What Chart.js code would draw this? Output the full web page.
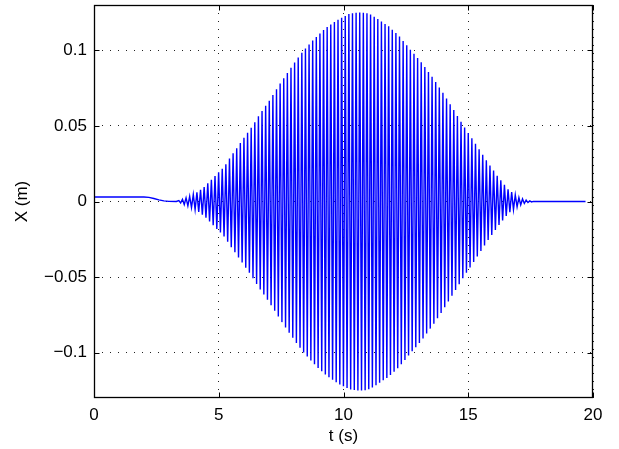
<!DOCTYPE html>
<html>
<head>
<meta charset="utf-8">
<script src="https://cdn.jsdelivr.net/npm/chart.js@4/dist/chart.umd.min.js"></script>
<style>
  html, body { margin: 0; padding: 0; background: #fff; }
</style>
</head>
<body>
<canvas id="graph" width="619" height="449"></canvas>
<script>
// debut du signal : palier puis descente vers 0
const leadT = [0, 2.0, 2.2, 2.4, 2.6, 2.8, 3.0, 3.3]
const leadX = [0.003, 0.003, 0.0027, 0.002, 0.0011, 0.0004, 0.0001, 0]

// sommets (maxima) de l'oscillation
const topT = [3.400,3.545,3.690,3.835,3.980,4.125,4.270,4.415,4.560,4.705,
  4.850,4.995,5.140,5.285,5.430,5.575,5.720,5.865,6.010,6.155,
  6.300,6.445,6.590,6.735,6.880,7.025,7.170,7.315,7.460,7.605,
  7.750,7.895,8.040,8.185,8.330,8.475,8.620,8.765,8.910,9.055,
  9.200,9.345,9.490,9.635,9.780,9.925,10.070,10.215,10.360,10.505,
  10.650,10.795,10.940,11.085,11.230,11.375,11.520,11.665,11.810,11.955,
  12.100,12.245,12.390,12.535,12.680,12.825,12.970,13.115,13.260,13.405,
  13.550,13.695,13.840,13.985,14.130,14.275,14.420,14.565,14.710,14.855,
  15.000,15.145,15.290,15.435,15.580,15.725,15.870,16.015,16.160,16.305,
  16.450,16.595,16.740,16.885,17.030,17.175,17.320,17.465,17.610]
const topX = [0.0006,0.0015,0.0024,0.0034,0.0046,0.0060,0.0078,0.0096,0.0120,0.0144,
  0.0169,0.0193,0.0216,0.0247,0.0285,0.0319,0.0353,0.0387,0.0421,0.0454,
  0.0488,0.0525,0.0564,0.0599,0.0633,0.0667,0.0704,0.0742,0.0780,0.0815,
  0.0850,0.0885,0.0919,0.0952,0.0984,0.1013,0.1039,0.1065,0.1089,0.1112,
  0.1134,0.1155,0.1171,0.1187,0.1203,0.1216,0.1228,0.1240,0.1245,0.1249,
  0.1251,0.1249,0.1246,0.1237,0.1222,0.1207,0.1191,0.1175,0.1159,0.1137,
  0.1115,0.1091,0.1062,0.1033,0.1004,0.0977,0.0950,0.0922,0.0889,0.0857,
  0.0825,0.0790,0.0754,0.0719,0.0681,0.0643,0.0605,0.0566,0.0527,0.0489,
  0.0453,0.0418,0.0382,0.0346,0.0309,0.0272,0.0238,0.0205,0.0171,0.0140,
  0.0110,0.0080,0.0062,0.0044,0.0026,0.0017,0.0009,0.0004,0.0001]

// creux (minima) de l'oscillation
const botT = [3.4725,3.6175,3.7625,3.9075,4.0525,4.1975,4.3425,4.4875,4.6325,4.7775,
  4.9225,5.0675,5.2125,5.3575,5.5025,5.6475,5.7925,5.9375,6.0825,6.2275,
  6.3725,6.5175,6.6625,6.8075,6.9525,7.0975,7.2425,7.3875,7.5325,7.6775,
  7.8225,7.9675,8.1125,8.2575,8.4025,8.5475,8.6925,8.8375,8.9825,9.1275,
  9.2725,9.4175,9.5625,9.7075,9.8525,9.9975,10.1425,10.2875,10.4325,10.5775,
  10.7225,10.8675,11.0125,11.1575,11.3025,11.4475,11.5925,11.7375,11.8825,12.0275,
  12.1725,12.3175,12.4625,12.6075,12.7525,12.8975,13.0425,13.1875,13.3325,13.4775,
  13.6225,13.7675,13.9125,14.0575,14.2025,14.3475,14.4925,14.6375,14.7825,14.9275,
  15.0725,15.2175,15.3625,15.5075,15.6525,15.7975,15.9425,16.0875,16.2325,16.3775,
  16.5225,16.6675,16.8125,16.9575,17.1025,17.2475,17.3925,17.5375]
const botX = [-0.0010,-0.0020,-0.0029,-0.0040,-0.0053,-0.0069,-0.0087,-0.0108,-0.0132,-0.0157,
  -0.0181,-0.0205,-0.0232,-0.0266,-0.0302,-0.0336,-0.0370,-0.0404,-0.0438,-0.0471,
  -0.0507,-0.0545,-0.0582,-0.0616,-0.0650,-0.0686,-0.0723,-0.0761,-0.0798,-0.0833,
  -0.0868,-0.0902,-0.0936,-0.0968,-0.0999,-0.1026,-0.1052,-0.1077,-0.1101,-0.1123,
  -0.1145,-0.1163,-0.1179,-0.1195,-0.1210,-0.1222,-0.1234,-0.1243,-0.1247,-0.1250,
  -0.1250,-0.1248,-0.1242,-0.1230,-0.1215,-0.1199,-0.1183,-0.1167,-0.1148,-0.1126,
  -0.1103,-0.1077,-0.1048,-0.1019,-0.0991,-0.0964,-0.0936,-0.0906,-0.0873,-0.0841,
  -0.0808,-0.0772,-0.0737,-0.0700,-0.0662,-0.0624,-0.0586,-0.0547,-0.0508,-0.0471,
  -0.0436,-0.0400,-0.0364,-0.0328,-0.0291,-0.0255,-0.0222,-0.0188,-0.0156,-0.0125,
  -0.0095,-0.0071,-0.0053,-0.0035,-0.0022,-0.0013,-0.0007,-0.0003]

// fin du signal : retour au repos
const tailT = [17.7, 19.7]
const tailX = [0, 0]

// graduations
const xTicks = [0, 5, 10, 15, 20]
const yTicks = [-0.1, -0.05, 0, 0.05, 0.1]

// on assemble la courbe : palier, puis sommet / creux en alternance, puis fin
let points = []
leadT.forEach((t, i) => points.push({x: t, y: leadX[i]}))
topT.forEach((t, i) => {
  points.push({x: t, y: topX[i]})
  if (i < botT.length) points.push({x: botT[i], y: botX[i]})
})
tailT.forEach((t, i) => points.push({x: t, y: tailX[i]}))

const police = {family: '"Liberation Sans", Arial, Helvetica, sans-serif', size: 17}

// cadre noir + petites graduations vers l'interieur (style matlab)
const cadre = {
  id: 'cadre',
  afterDatasetsDraw(chart) {
    const ctx = chart.ctx
    const a = chart.chartArea
    const sx = chart.scales.x, sy = chart.scales.y
    const L = Math.round(a.left) + 0.5, R = Math.round(a.right) - 0.5
    const T = Math.round(a.top) + 0.5, B = Math.round(a.bottom) - 0.5
    ctx.save()
    ctx.strokeStyle = '#000'
    ctx.lineWidth = 1
    ctx.beginPath()
    xTicks.forEach(v => {
      const px = Math.round(sx.getPixelForValue(v)) + 0.5
      ctx.moveTo(px, B); ctx.lineTo(px, B - 5)
      ctx.moveTo(px, T); ctx.lineTo(px, T + 5)
    })
    yTicks.forEach(v => {
      const py = Math.round(sy.getPixelForValue(v)) + 0.5
      ctx.moveTo(L, py); ctx.lineTo(L + 5, py)
      ctx.moveTo(R, py); ctx.lineTo(R - 5, py)
    })
    ctx.stroke()
    ctx.lineWidth = 1.3
    ctx.strokeRect(L, T, R - L, B - T)
    ctx.restore()
  }
}

new Chart(document.getElementById('graph'), {
  type: 'line',
  data: {
    datasets: [{
      data: points,
      borderColor: '#0000ff',
      borderWidth: 1.4,
      pointRadius: 0,
      tension: 0,
      fill: false
    }]
  },
  options: {
    responsive: false,
    animation: false,
    layout: {padding: {left: 0, right: 26, top: 5, bottom: 0}},
    plugins: {legend: {display: false}, tooltip: {enabled: false}},
    scales: {
      x: {
        type: 'linear',
        min: 0, max: 20,
        afterBuildTicks: s => { s.ticks = xTicks.map(v => ({value: v})) },
        afterFit: s => { s.height = 51; s.paddingLeft = 0; s.paddingRight = 0 },
        grid: {color: '#222', lineWidth: 1, drawTicks: false},
        border: {display: false, dash: [1, 7]},
        ticks: {color: '#000', font: police, padding: 7, maxRotation: 0},
        title: {display: true, text: 't (s)', color: '#000', font: police, padding: {top: 0, bottom: 2}}
      },
      y: {
        type: 'linear',
        min: -0.13, max: 0.13,
        afterBuildTicks: s => { s.ticks = yTicks.map(v => ({value: v})) },
        afterFit: s => { s.width = 94; s.paddingTop = 0; s.paddingBottom = 0 },
        grid: {color: '#222', lineWidth: 1, drawTicks: false},
        border: {display: false, dash: [1, 7]},
        ticks: {
          color: '#000', font: police, padding: 7,
          callback: v => String(v).replace('-', '\u2212')
        },
        title: {display: true, text: 'X (m)', color: '#000', font: police, padding: {top: 12, bottom: 0}}
      }
    }
  },
  plugins: [cadre]
})
</script>
</body>
</html>
